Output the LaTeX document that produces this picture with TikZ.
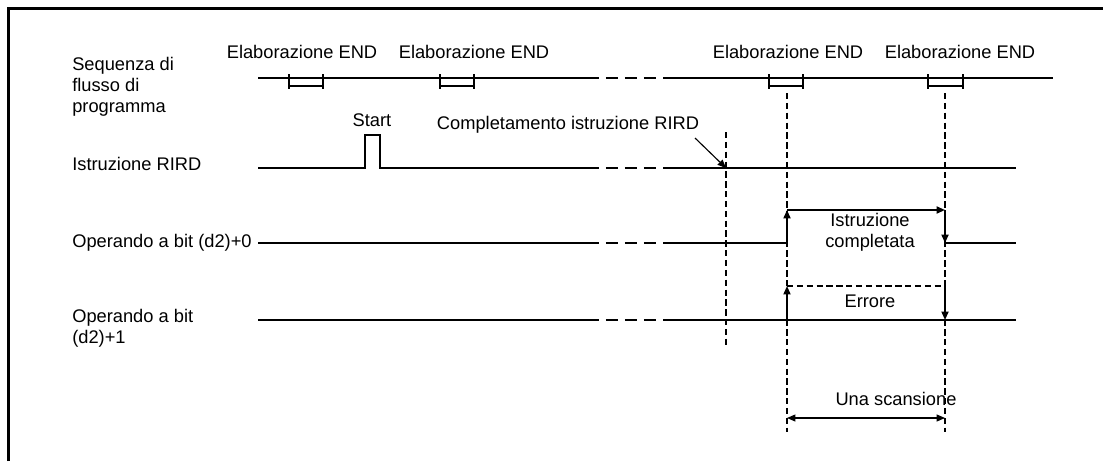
\documentclass[tikz,border=0pt]{standalone}
\usepackage{fontspec}
\setmainfont{Liberation Sans}
\usetikzlibrary{arrows.meta}

\begin{document}
\begin{tikzpicture}[x=0.025cm, y=-0.025cm,
  every node/.style={inner sep=0pt, font=\fontsize{13}{15}\selectfont},
  rowlabel/.style={anchor=west, align=left},
  signal/.style={line width=0.75pt},
  gap/.style={line width=1.2pt, dash pattern=on 8.5pt off 5pt},
  tick/.style={line width=0.75pt},
  guide/.style={line width=1.2pt, dash pattern=on 4.5pt off 2.5pt},
  tip/.style={-{Triangle[length=6pt,width=5pt]}},
  flag/.style={line width=1.3pt, tip}
]
\useasboundingbox (0,0) rectangle (1103,461);

% Frame
\draw[line width=1.8pt] (8.5,461) -- (8.5,8.5) -- (1103,8.5);

% Row labels
\node[rowlabel] (rowProg) at (72,87)  {Sequenza di\\flusso di\\programma};
\node[rowlabel] (rowRird) at (72,164) {Istruzione RIRD};
\node[rowlabel] (rowBit0) at (72,243) {Operando a bit (d2)+0};
\node[rowlabel] (rowBit1) at (72,328) {Operando a bit\\(d2)+1};

% Program flow with END processing
\draw[signal] (258,78) -- (587,78);
\draw[gap]    (587,78) -- (656,78);
\draw[signal] (663,78) -- (1053,78);

\draw[tick] (289,74) -- (289,89) (289,86) -- (323,86) (323,74) -- (323,89);
\draw[tick] (440,74) -- (440,89) (440,86) -- (474,86) (474,74) -- (474,89);
\draw[tick] (769,74) -- (769,89) (769,86) -- (803,86) (803,74) -- (803,89);
\draw[tick] (928,74) -- (928,89) (928,86) -- (963,86) (963,74) -- (963,89);

\node (end1) at (302,52) {Elaborazione END};
\node (end2) at (474,52) {Elaborazione END};
\node (end3) at (788,52) {Elaborazione END};
\node (end4) at (960,52) {Elaborazione END};

% RIRD instruction
\draw[signal] (258,168) -- (365,168) -- (365,135) -- (380,135) -- (380,168) -- (587,168);
\draw[gap]    (587,168) -- (656,168);
\draw[signal] (663,168) -- (1016,168);
\node (start) at (372,120) {Start};

% Bit (d2)+0
\draw[signal] (258,243) -- (587,243);
\draw[gap]    (587,243) -- (656,243);
\draw[signal] (663,243) -- (787,243);
\draw[signal] (945,243) -- (1016,243);

% Bit (d2)+1
\draw[signal] (258,320) -- (587,320);
\draw[gap]    (587,320) -- (656,320);
\draw[signal] (663,320) -- (1016,320);

% Scan guides
\coordinate (scanTopL) at (787,93);
\coordinate (scanTopR) at (945,93);
\coordinate (scanBotL) at (787,432);
\coordinate (scanBotR) at (945,432);
\draw[guide] (scanTopL) -- (scanBotL);
\draw[guide] (scanTopR) -- (scanBotR);

% Completion of the instruction
\coordinate (doneTop) at (726,132);
\coordinate (doneBot) at (726,345);
\coordinate (doneHit) at (726,168);
\coordinate (doneTail) at (695,138);
\draw[guide] (doneTop) -- (doneBot);
\node (done) at (568,125) {Completamento istruzione RIRD};
\draw[line width=0.8pt, tip] (doneTail) -- (doneHit);

% Completed flag
\coordinate (okLow) at (787,243);
\coordinate (okUpL) at (787,210);
\coordinate (okUpR) at (945,210);
\coordinate (okEnd) at (945,243);
\draw[flag] (okLow) -- (okUpL);
\draw[flag] (okUpL) -- (okUpR);
\draw[flag] (okUpR) -- (okEnd);
\node[align=center] (ok) at (870,232) {Istruzione\\completata};

% Error flag
\coordinate (errLow) at (787,320);
\coordinate (errUpL) at (787,286);
\coordinate (errUpR) at (945,286);
\coordinate (errEnd) at (945,320);
\draw[guide, tip] (errLow) -- (errUpL);
\draw[guide] (errUpL) -- (errUpR);
\draw[guide, tip] (errUpR) -- (errEnd);
\node (err) at (870,301) {Errore};

% One scan
\coordinate (scanL) at (787,418);
\coordinate (scanR) at (945,418);
\draw[line width=0.8pt, {Triangle[length=6pt,width=5pt]}-{Triangle[length=6pt,width=5pt]}] (scanL) -- (scanR);
\node (scan) at (896,399) {Una scansione};

\end{tikzpicture}
\end{document}
